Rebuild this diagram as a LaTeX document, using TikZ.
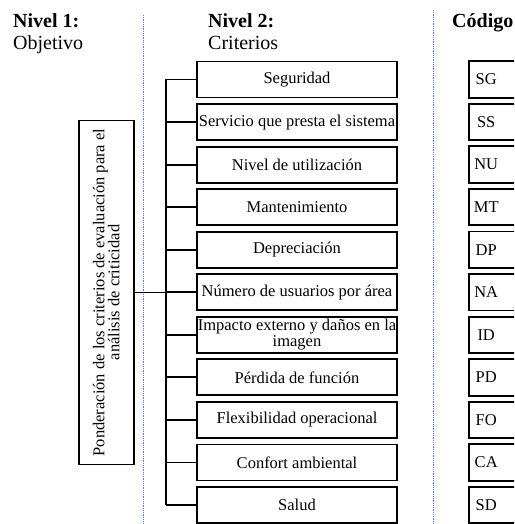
\documentclass[tikz,border=0pt]{standalone}
\usepackage{fontspec}
\setmainfont{Liberation Serif}
\definecolor{guideblue}{RGB}{80,125,220}
\begin{document}
\begin{tikzpicture}[x=1pt,y=-1pt,
  boxline/.style={line width=1.9pt},
  crit/.style={draw, boxline, minimum width=200pt, minimum height=36pt,
    inner sep=0pt, align=center, font=\fontsize{16.5}{16}\selectfont},
  codetxt/.style={anchor=west, text width=34pt, align=center, inner sep=0pt,
    minimum height=36pt, font=\fontsize{16.5}{16}\selectfont},
  goal/.style={draw, boxline, rotate=90, minimum width=344pt, minimum height=54.5pt,
    inner sep=0pt, align=center, font=\fontsize{16.5}{15}\selectfont},
  link/.style={line width=1.9pt},
  guide/.style={densely dotted, guideblue, line width=0.8pt},
  head/.style={anchor=base west, inner sep=0pt, font=\fontsize{20}{22}\selectfont}]

\useasboundingbox (0,0) rectangle (514,524);
\clip (0,0) rectangle (514,524);

% column guides
\coordinate (g1t) at (143,15);  \coordinate (g1b) at (143,524);
\coordinate (g2t) at (433,10);  \coordinate (g2b) at (433,524);
\draw[guide] (g1t) -- (g1b);
\draw[guide] (g2t) -- (g2b);

% column headings
\node[head] (h1) at (13,28) {\bfseries Nivel 1:};
\node[head] (h1b) at (13,50) {Objetivo};
\node[head] (h2) at (208,28) {\bfseries Nivel 2:};
\node[head] (h2b) at (208,50) {Criterios};
\node[head] (h3) at (452,28) {\bfseries Código};

% objective
\node[goal] (goal) at (106.3,292.5)
  {Ponderación de los criterios de evaluación para el\\análisis de criticidad};

% criteria and their codes
\foreach [count=\n] \t/\c in {
  Seguridad/SG,
  Servicio que presta el sistema/SS,
  Nivel de utilización/NU,
  Mantenimiento/MT,
  Depreciación/DP,
  Número de usuarios por área/NA,
  {Impacto externo y daños en la\\imagen}/ID,
  Pérdida de función/PD,
  Flexibilidad operacional/FO,
  Confort ambiental/CA,
  Salud/SD}{
  \pgfmathsetmacro{\yy}{79.5+42.55*(\n-1)}
  \node[crit] (c\n) at (297,\yy) {\t};
  \node[codetxt] (k\n) at (469,\yy) {\c};
  \draw[boxline] ([xshift=60pt]k\n.north west) -- (k\n.north west)
    -- (k\n.south west) -- ([xshift=60pt]k\n.south west);
}

% tree connectors
\coordinate (bt) at (166,79.5);
\coordinate (bb) at (166,505);
\draw[link] (bt) -- (bb);
\foreach \n in {1,...,11}{
  \draw[link] (c\n.west) -- (c\n.west -| bt);
}
\draw[link] (goal.south) -- (goal.south -| bt);
\end{tikzpicture}
\end{document}
